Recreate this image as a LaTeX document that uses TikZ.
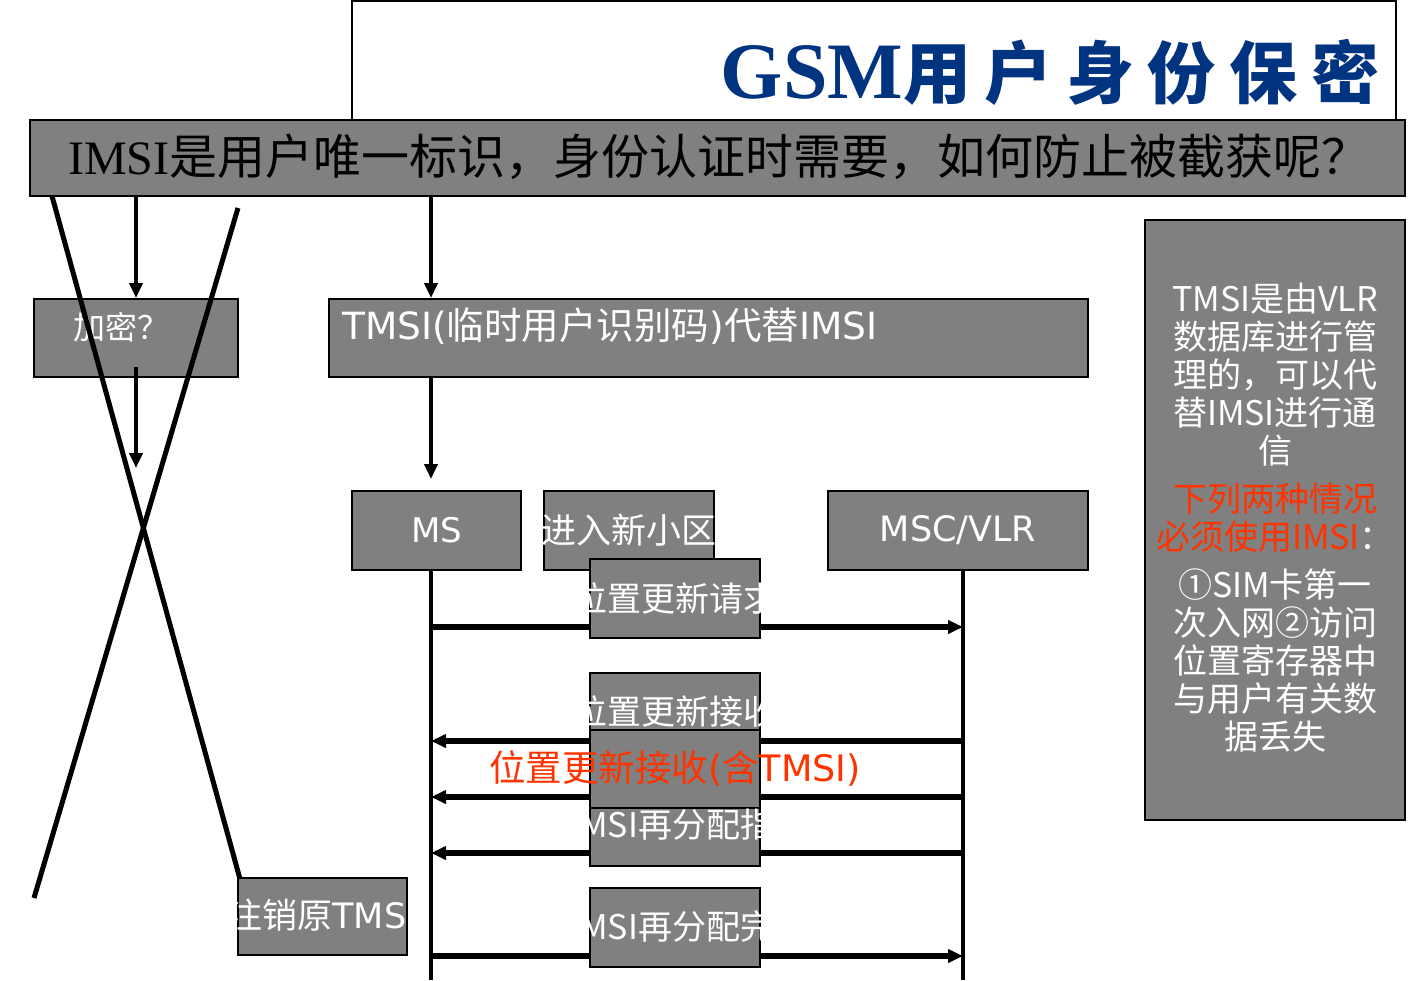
\documentclass[tikz,border=0pt]{standalone}
\usepackage{fontspec}
\setmainfont{Noto Sans CJK SC}
\newfontfamily\dv{DejaVu Sans}
\newfontfamily\tnr{Liberation Serif}
\usepackage{xcolor}
\usepackage{tikz}
\usetikzlibrary{positioning}
\usetikzlibrary{arrows.meta}

\definecolor{boxgray}{RGB}{128,128,128}
\definecolor{navy}{RGB}{0,51,128}
\definecolor{alert}{RGB}{255,51,0}

\tikzset{
  gbox/.style={draw=black,line width=2pt,fill=boxgray,inner sep=0pt},
  wtext/.style={text=white,inner sep=0pt,font=\fontsize{34}{38}\selectfont},
  link/.style={line width=4.5pt,-{Triangle[length=15pt,width=13pt]}},
  msg/.style={line width=5.5pt,-{Triangle[length=15pt,width=13pt]}},
  life/.style={line width=3.5pt},
  cross/.style={line width=5pt},
}

\begin{document}
\begin{tikzpicture}[x=1pt,y=-1pt]
\useasboundingbox (0,0) rectangle (1408,980);
%%%%%%%%%%%%%% title and question bar
\node[draw=black,line width=2pt,fill=white,minimum width=1044pt,minimum height=120pt] (head) at (874,61) {};
\node[text=navy,inner sep=0pt] (ttl) at (1050,72) {{\tnr\bfseries\fontsize{80}{80}\selectfont GSM}{\bfseries\fontsize{68}{68}\selectfont\addfontfeature{LetterSpace=20}用户身份保密}};
\node[gbox,minimum width=1375pt,minimum height=76pt] (bar) at (717.5,158) {};
\node[anchor=west,inner sep=0pt,font=\fontsize{48}{52}\selectfont] (qst) at (68,157) {{\tnr IMSI}是用户唯一标识，身份认证时需要，如何防止被截获呢？};
%%%%%%%%%%%%%% boxes
\node[gbox,minimum width=204pt,minimum height=78pt] (jm) at (136,338) {};
\node[gbox,minimum width=759pt,minimum height=78pt] (tmsi) at (708.5,338) {};
\node[gbox,minimum width=169pt,minimum height=79pt] (ms) at (436.5,530.5) {};
\node[gbox,minimum width=170pt,minimum height=79pt] (cell) at (629,530.5) {};
\node[gbox,minimum width=260pt,minimum height=79pt] (msc) at (958,530.5) {};
\node[gbox,minimum width=260pt,minimum height=600pt] (note) at (1275,520) {};
%%%%%%%%%%%%%% arrows from the bar
\coordinate (b1) at (136,196);
\coordinate (jmt) at (136,298);
\coordinate (jmi) at (136,367);
\coordinate (jmo) at (136,468);
\coordinate (b2) at (431,196);
\coordinate (tmsit) at (431,298);
\coordinate (tmsib) at (431,377);
\coordinate (mst) at (431,479);
\draw[link] (b1) -- (jmt);
\draw[link] (jmi) -- (jmo);
\draw[link] (b2) -- (tmsit);
\draw[link] (tmsib) -- (mst);
%%%%%%%%%%%%%% lifelines
\coordinate (msl) at (431,570);
\coordinate (msle) at (431,980);
\coordinate (mscl) at (963,570);
\coordinate (mscle) at (963,980);
\draw[life] (msl) -- (msle);
\draw[life] (mscl) -- (mscle);
%%%%%%%%%%%%%% messages
\coordinate (m1a) at (431,627);  \coordinate (m1b) at (963,627);
\coordinate (m2a) at (431,741);  \coordinate (m2b) at (963,741);
\coordinate (m3a) at (431,797);  \coordinate (m3b) at (963,797);
\coordinate (m4a) at (431,853);  \coordinate (m4b) at (963,853);
\coordinate (m5a) at (431,956);  \coordinate (m5b) at (963,956);
\draw[msg] (m1a) -- (m1b);
\draw[msg] (m2b) -- (m2a);
\draw[msg] (m3b) -- (m3a);
\draw[msg] (m4b) -- (m4a);
\draw[msg] (m5a) -- (m5b);
%%%%%%%%%%%%%% message labels
\node[gbox,minimum width=170pt,minimum height=79pt] (req) at (675,598.5) {};
\node[gbox,minimum width=170pt,minimum height=77pt] (acc) at (675,711.5) {};
\node[wtext] (acctx) at (acc.center) {位置更新接收};
\node[gbox,minimum width=170pt,minimum height=78pt] (acct) at (675,769) {};
\node[gbox,minimum width=170pt,minimum height=58pt] (cmd) at (675,837) {};
\node[gbox,minimum width=170pt,minimum height=79pt] (cmp) at (675,927.5) {};
\node[gbox,minimum width=169pt,minimum height=77pt] (dereg) at (322.5,916.5) {};
%%%%%%%%%%%%%% texts
\node[wtext,font=\fontsize{32}{36}\selectfont] (jmtx) at (121,327) {加密？};
\node[wtext,anchor=west,font=\fontsize{37.5}{40}\selectfont] (tmsitx) at (342,326) {{\dv TMSI(}临时用户识别码{\dv )}代替{\dv IMSI}};
\node[wtext,font=\dv\fontsize{34}{38}\selectfont] (mstx) at (ms.center) {MS};
\node[wtext,font=\fontsize{35}{38}\selectfont] (celltx) at (629,530) {进入新小区};
\node[wtext,font=\dv\fontsize{35}{38}\selectfont] (msctx) at (msc.center) {MSC/VLR};
\node[wtext] (reqtx) at (675,598) {位置更新请求};
\node[wtext] (cmdtx) at (684,825) {TMSI再分配指令};
\node[wtext] (cmptx) at (684,927) {TMSI再分配完成};
\node[wtext,font=\fontsize{35}{38}\selectfont] (deregtx) at (322,915) {注销原{\dv TMSI}};
\node[text=alert,inner sep=0pt,font=\fontsize{36.5}{40}\selectfont] (accred) at (675,768) {位置更新接收{\dv (}含{\dv TMSI)}};
\node[text=white,inner sep=0pt,align=center,font=\fontsize{34}{38}\selectfont] (notetx) at (1275,518) {TMSI是由VLR\\数据库进行管\\理的，可以代\\替IMSI进行通\\信\\[10pt]{\color{alert}下列两种情况}\\{\color{alert}必须使用IMSI}：\\[10pt]①SIM卡第一\\次入网②访问\\位置寄存器中\\与用户有关数\\据丢失};
%%%%%%%%%%%%%% the cross
\coordinate (x1a) at (52,196);
\coordinate (x1b) at (240,879);
\coordinate (x2a) at (238,208);
\coordinate (x2b) at (34,898);
\draw[cross] (x1a) -- (x1b);
\draw[cross] (x2a) -- (x2b);
\end{tikzpicture}
\end{document}
